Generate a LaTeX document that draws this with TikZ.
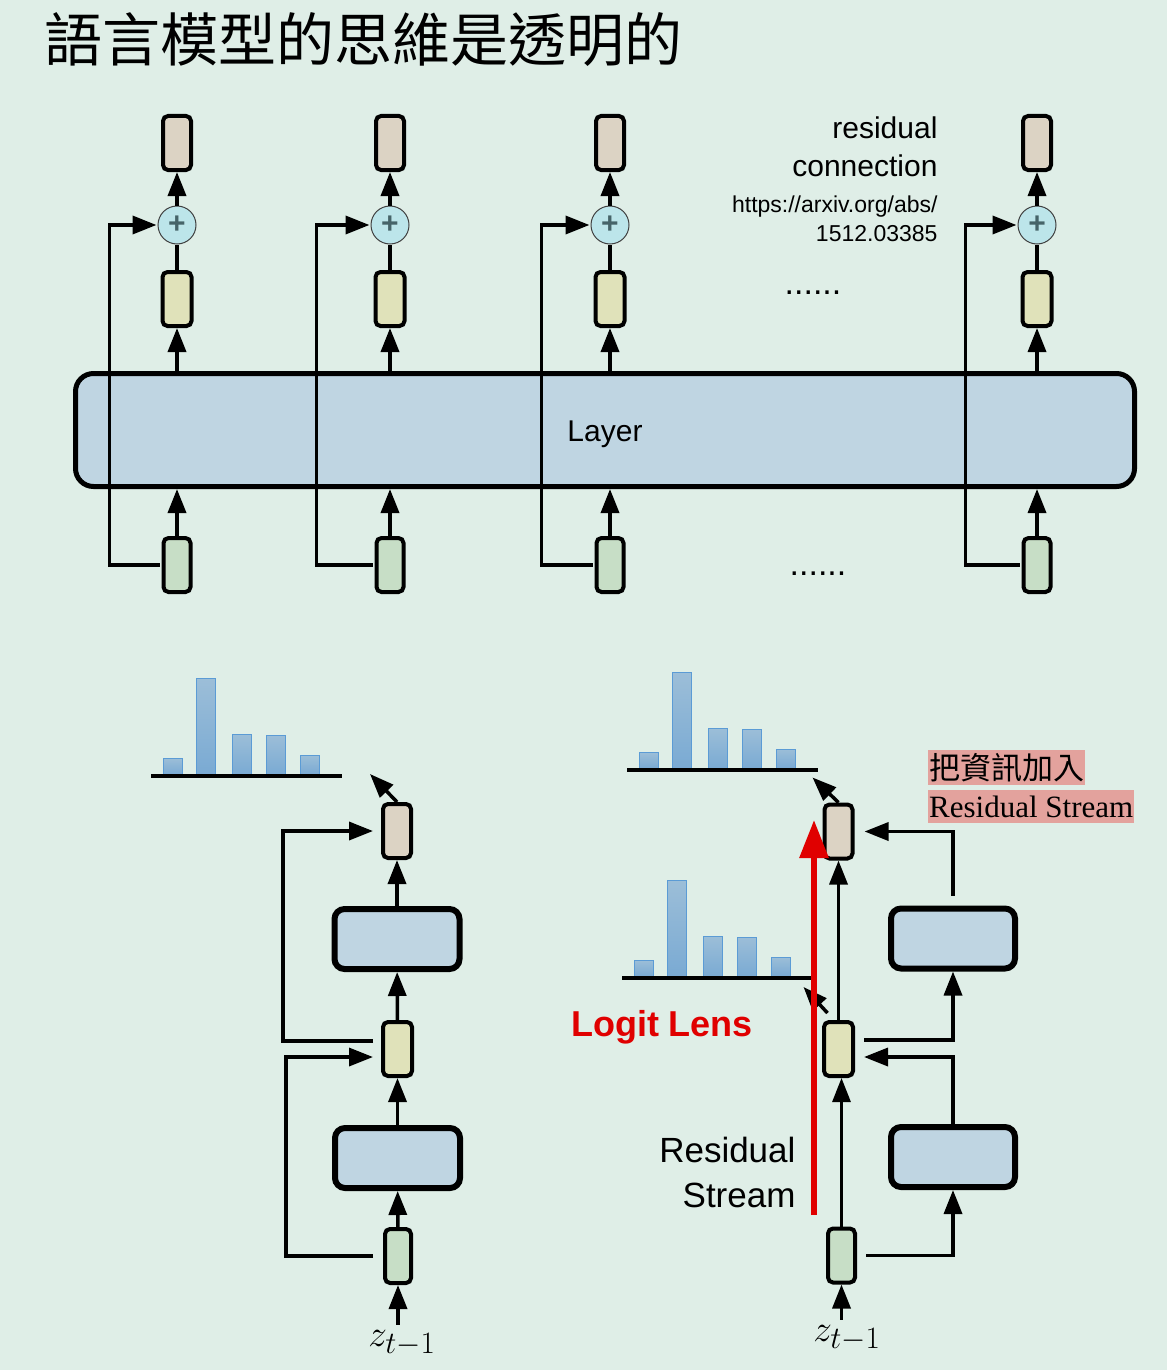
\documentclass[tikz,border=0pt]{standalone}
\usepackage{fontspec}
\setmainfont{Liberation Sans}
\newfontfamily\serif{Liberation Serif}
\newfontfamily\cjk{Noto Sans CJK TC}
\usetikzlibrary{positioning,arrows.meta,calc}
\definecolor{bgc}{RGB}{223,238,231}
\definecolor{outc}{RGB}{220,211,196}
\definecolor{hidc}{RGB}{224,226,186}
\definecolor{embc}{RGB}{199,222,198}
\definecolor{layc}{RGB}{191,213,226}
\definecolor{addc}{RGB}{188,229,234}
\definecolor{plusc}{RGB}{70,100,105}
\definecolor{bartop}{RGB}{156,190,216}
\definecolor{barbot}{RGB}{122,170,211}
\definecolor{barline}{RGB}{91,155,213}
\definecolor{pinkc}{RGB}{227,162,157}
\definecolor{lensc}{RGB}{224,0,0}
\newcommand{\probbars}[1]{%
  \begin{scope}[shift={#1}]
    \foreach \bx/\bh in {12/16,45/96,81/40,115/39,149/19}
      \draw[barline, line width=1pt, top color=bartop, bottom color=barbot]
        (\bx,-2) rectangle ++(19,-\bh);
    \draw[line width=4pt] (0,0) -- (191,0);
  \end{scope}}

\begin{document}
\begin{tikzpicture}[
  x=1pt, y=-1pt,
  vecbox/.style={draw, line width=4pt, rounded corners=5pt, inner sep=0pt,
                 minimum width=28pt, minimum height=54pt},
  outvec/.style={vecbox, fill=outc},
  hidvec/.style={vecbox, fill=hidc, minimum width=29pt},
  embvec/.style={vecbox, fill=embc, minimum width=27pt},
  blockbox/.style={draw, line width=6pt, rounded corners=10pt, fill=layc,
                   minimum width=125pt, minimum height=60pt},
  addcircle/.style={circle, draw=black!75, line width=1pt, fill=addc,
                    minimum size=38pt, inner sep=0pt, text=plusc,
                    font=\bfseries\fontsize{30}{30}\selectfont},
  arr/.style={-{Triangle[length=24pt,width=18pt]}, line width=3.5pt},
  link/.style={line width=3.5pt},
  redarr/.style={-{Triangle[length=38pt,width=28pt]}, line width=6pt, lensc}
]
\fill[bgc] (0,0) rectangle (1167,1370);
\useasboundingbox (0,0) rectangle (1167,1370);

% title
\node[anchor=west, inner sep=0pt, font=\cjk\fontsize{58}{60}\selectfont]
  (title) at (44,40) {語言模型的思維是透明的};

% ---- top: one layer with residual connections
\node[draw, line width=5pt, rounded corners=18pt, fill=layc,
      minimum width=1059pt, minimum height=113pt,
      font=\fontsize{30}{30}\selectfont] (layer) at (605,430) {};
\node[font=\fontsize{30}{30}\selectfont] (laytxt) at (605,434) {Layer};
\foreach \cx [count=\i] in {177,390,610,1037} {
  \node[outvec] (out\i) at (\cx,143) {};
  \node[addcircle] (add\i) at (\cx,225) {+};
  \node[hidvec] (hid\i) at (\cx,299) {};
  \node[embvec] (emb\i) at (\cx,565) {};
}
\foreach \i/\dx in {1/-50,2/-56,3/-51,4/-54} {
  \draw[arr] (add\i) -- (out\i);
  \draw[link] (hid\i) -- (add\i);
  \draw[arr] (hid\i.south |- layer.north) -- (hid\i);
  \draw[arr] (emb\i) -- (emb\i.north |- layer.south);
  \draw[arr] ([xshift=-2pt]emb\i.west) -- ++(\dx,0) |- ([xshift=-1pt]add\i.west);
}
\node[font=\fontsize{34}{34}\selectfont] (dotsA) at (813,293) {......};
\node[font=\fontsize{34}{34}\selectfont] (dotsB) at (818,574) {......};
\node[anchor=east, align=right, font=\fontsize{30}{38}\selectfont]
  (rescon) at (941,147) {residual\\connection};
\node[anchor=east, align=right, font=\fontsize{23}{29}\selectfont]
  (arxiv) at (941,219) {https://arxiv.org/abs/\\1512.03385};

% ---- bottom left: plain residual stream
\node[embvec, minimum width=26pt] (embL) at (398,1256) {};
\node[blockbox] (blkL1) at (397.5,1158) {};
\node[hidvec] (hidL) at (397.5,1049) {};
\node[blockbox] (blkL2) at (397,939) {};
\node[outvec] (outL) at (397,831) {};
\node[font=\Huge, scale=1.5] (zL) at (402,1343) {$z_{t-1}$};
\probbars{(151,776)}
\draw[arr] (embL.south |- zL.north) -- (embL);
\draw[arr] (embL) -- (blkL1);
\draw[arr] (blkL1) -- (hidL);
\draw[arr] (hidL) -- (blkL2);
\draw[arr] (blkL2) -- (outL);
\draw[arr] (outL.north) -- ++(-27,-28);
\draw[arr] ([shift={(-8pt,8pt)}]hidL.west) -- ++(-90,0) |- ([xshift=-8pt]outL.west);
\draw[arr] ([xshift=-10pt]embL.west) -- ++(-87,0) |- ([shift={(-8pt,-8pt)}]hidL.west);

% ---- bottom right: logit lens
\node[embvec] (embR) at (841.5,1255.5) {};
\node[hidvec] (hidR) at (838.5,1049) {};
\node[outvec] (outR) at (838.5,831.5) {};
\node[blockbox, minimum width=124pt] (blkR1) at (953,1157) {};
\node[blockbox, minimum width=124pt] (blkR2) at (953,938.5) {};
\node[font=\Huge, scale=1.5] (zR) at (847,1338) {$z_{t-1}$};
\probbars{(627,770)}
\probbars{(622,978)}
\draw[arr] (embR.south |- zR.north) -- (embR);
\draw[arr, line width=3pt] (embR.north) -- (embR.north |- hidR.south);
\draw[arr] (hidR) -- (outR);
\draw[arr] ([xshift=9pt]embR.east) -| (blkR1);
\draw[arr] (blkR1) |- ([shift={(9pt,-8pt)}]hidR.east);
\draw[arr] ([shift={(9pt,9pt)}]hidR.east) -| (blkR2);
\draw[arr] ([yshift=10pt]blkR2.north) |- ([xshift=10pt]outR.east);
\draw[arr] (outR.north) -- ++(-26,-25);
\draw[arr] ([shift={(-11pt,7pt)}]hidR.north) -- ++(-24,-26);
\coordinate (lensbot) at (814,1215);
\coordinate (lenstop) at (814,820);
\draw[redarr] (lensbot) -- (lenstop);
\node[text=lensc, font=\bfseries\fontsize{36}{36}\selectfont] (lens) at (662,1027) {Logit Lens};
\node[anchor=east, align=right, font=\fontsize{35}{45}\selectfont]
  (rslbl) at (799,1172) {Residual\\Stream};
\node[anchor=west, fill=pinkc, inner xsep=1pt, inner ysep=0pt, minimum height=35pt,
      font=\cjk\fontsize{31}{31}\selectfont] (addinfo) at (928,767.5) {把資訊加入};
\node[anchor=west, fill=pinkc, inner xsep=1pt, inner ysep=0pt, minimum height=33pt,
      font=\serif\fontsize{31}{31}\selectfont] (addrs) at (928,806.5) {Residual Stream};
\end{tikzpicture}
\end{document}
